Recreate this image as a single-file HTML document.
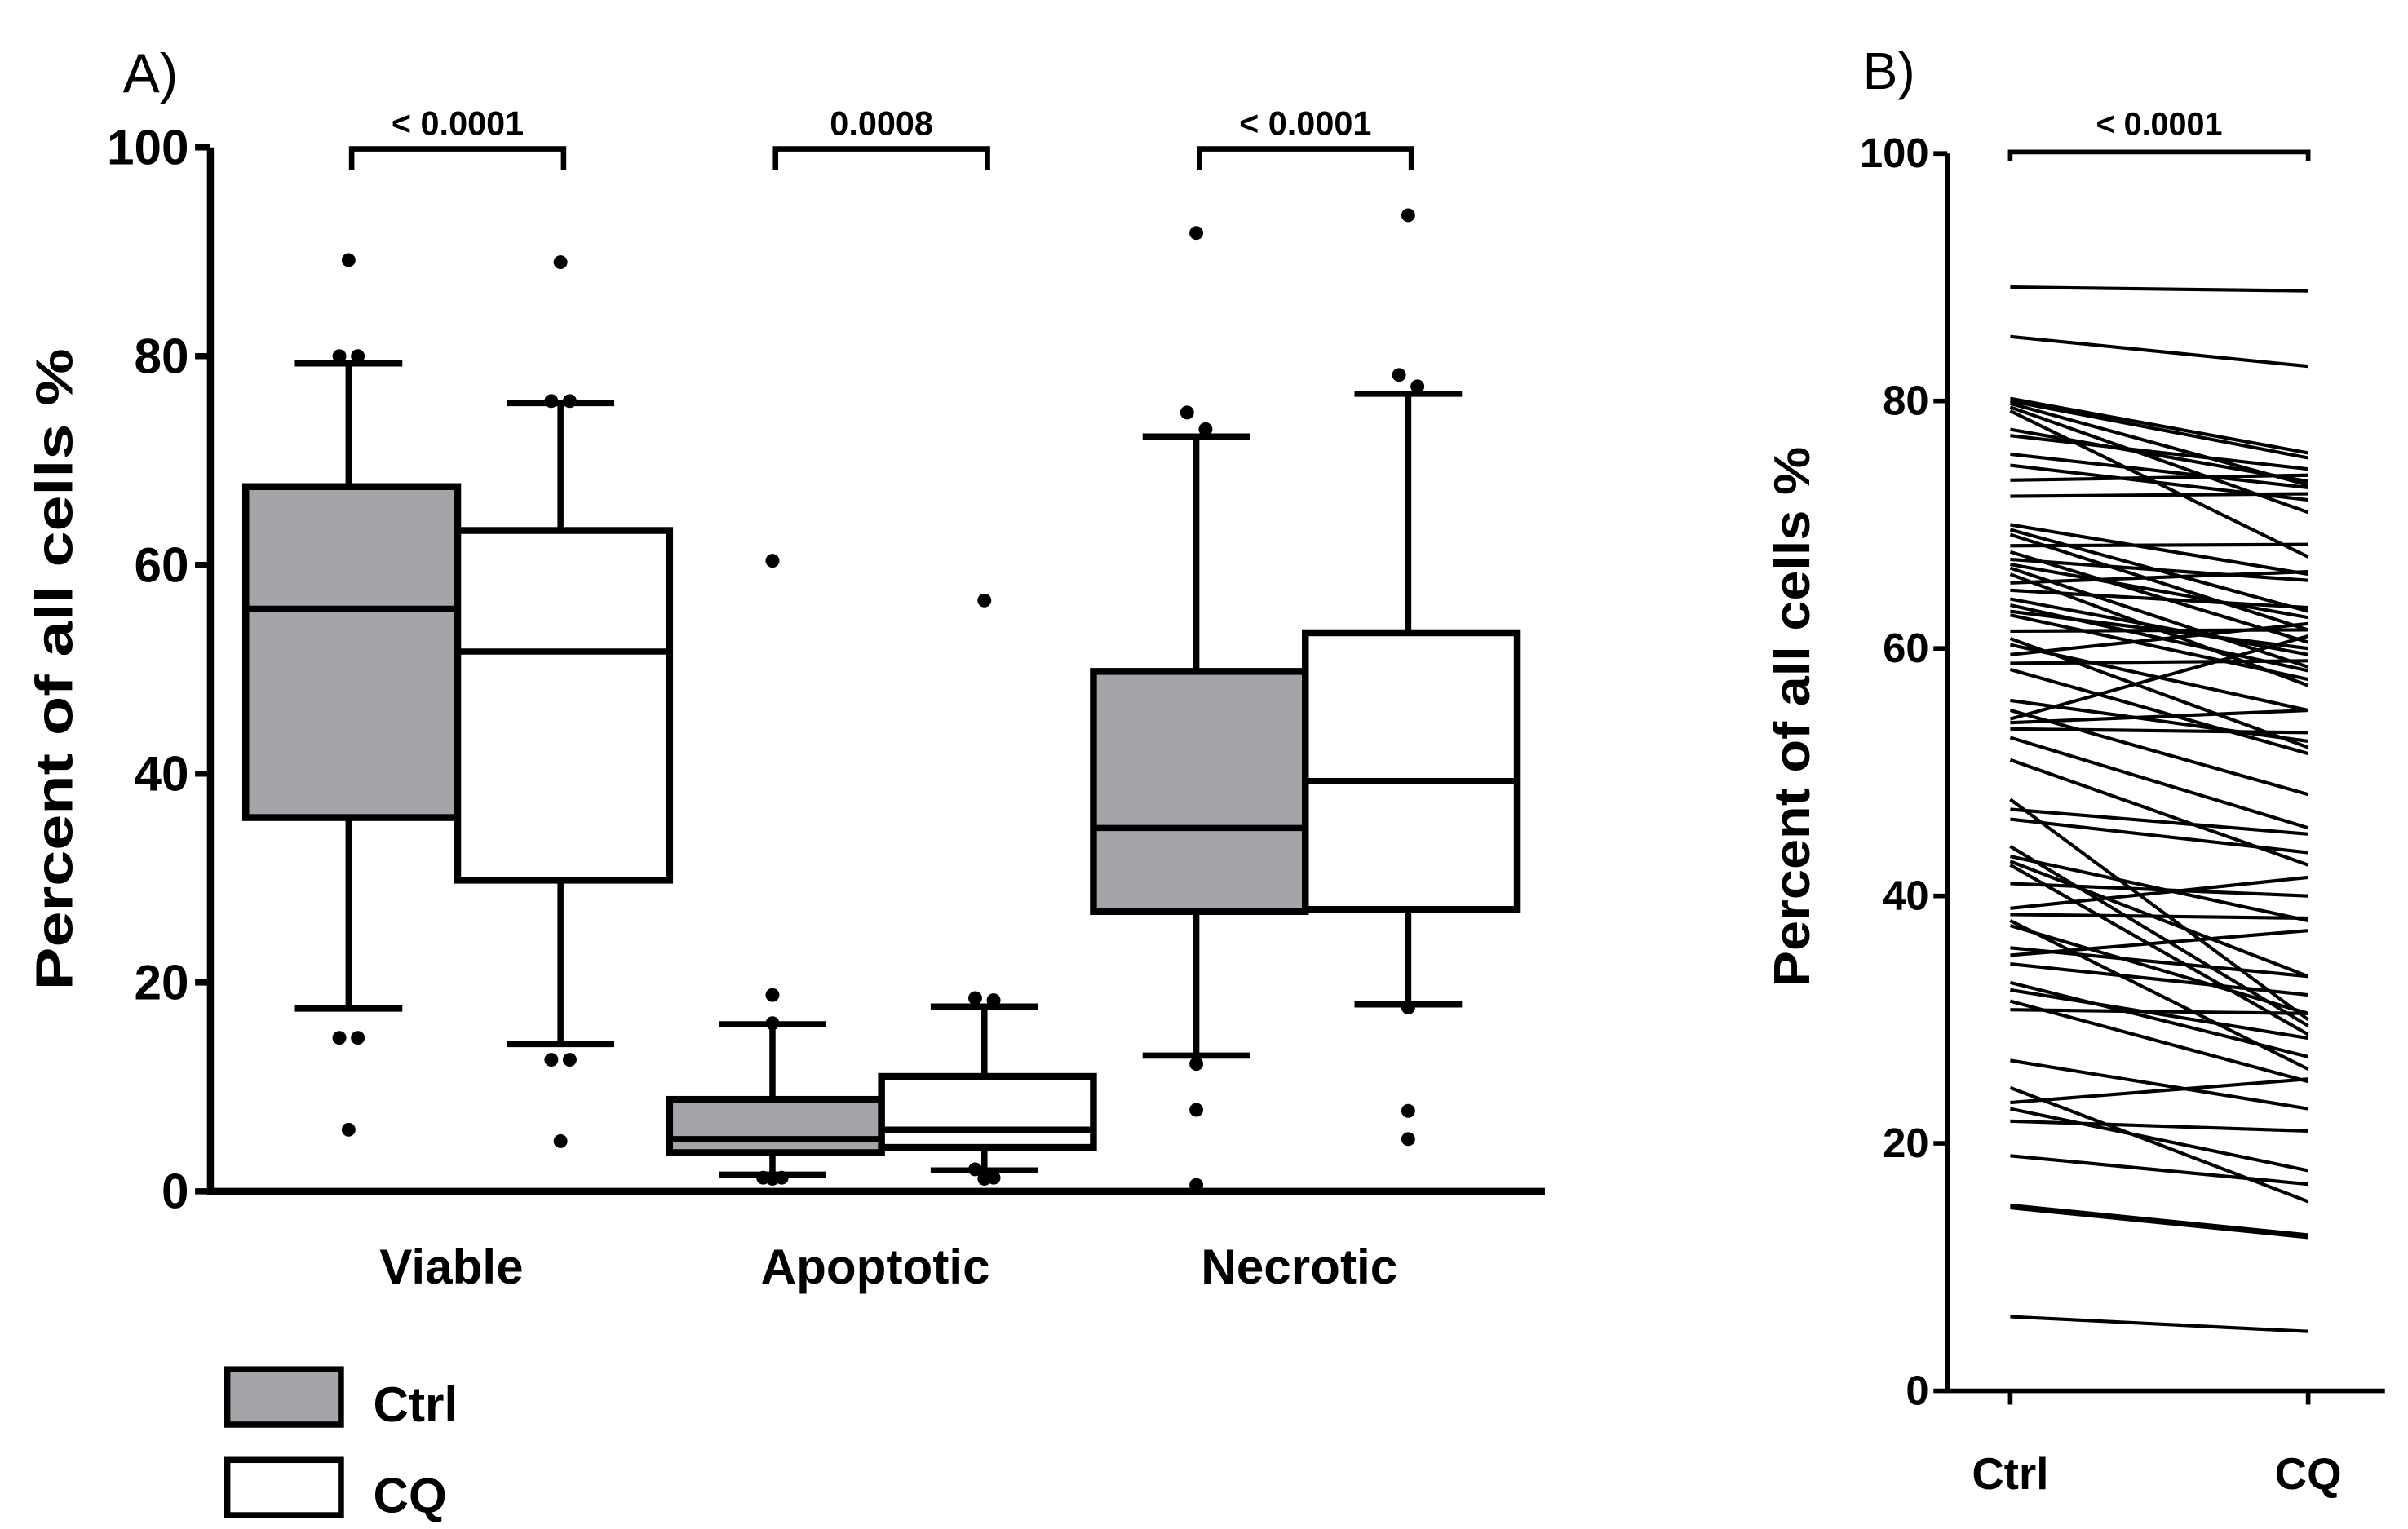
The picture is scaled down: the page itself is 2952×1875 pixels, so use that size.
<!DOCTYPE html>
<html><head><meta charset="utf-8">
<style>
html,body{margin:0;padding:0;background:#fff;}
svg{display:block;}
text{font-family:"Liberation Sans Narrow","Liberation Sans",sans-serif;font-weight:bold;fill:#000;}
.wide{font-family:"Liberation Sans",sans-serif;}
</style></head>
<body>
<svg id="chart" width="2952" height="1875" viewBox="0 0 1568 996" preserveAspectRatio="none" xmlns="http://www.w3.org/2000/svg">
  <g id="panelA"></g>
  <g id="panelB"></g>
</svg>
<script>
// ---------- Panel A data ----------
const categoriesA = ["Viable", "Apoptotic", "Necrotic"];
const groupsA = ["Ctrl", "CQ"];
// [whiskerLow, Q1, median, Q3, whiskerHigh]
const ctrlStats = [[17.5, 35.8, 55.8, 67.5, 79.3], [1.6, 3.7, 5.0, 8.8, 16.0], [13.0, 26.8, 34.8, 49.8, 72.3]];
const cqStats = [[14.1, 29.8, 51.7, 63.3, 75.5], [2.0, 4.2, 5.9, 11.0, 17.7], [17.9, 27.0, 39.3, 53.5, 76.4]];
// outliers: [value, horizontal offset index]
const ctrlOutliers = [[[89.2,0],[80.0,-1],[80.0,1],[14.7,-1],[14.7,1],[5.9,0]],
                      [[60.4,0],[18.8,0],[16.1,0],[1.3,-1],[1.2,0],[1.3,1]],
                      [[91.8,0],[74.6,-1],[73.0,1],[12.2,0],[7.8,0],[0.6,0]]];
const cqOutliers = [[[89.0,0],[75.7,-1],[75.7,1],[12.6,-1],[12.6,1],[4.8,0]],
                    [[56.6,0],[18.5,-1],[18.3,1],[2.1,-1],[1.2,0],[1.3,1]],
                    [[93.5,0],[78.2,-1],[77.1,1],[17.6,0],[7.7,0],[5.0,0]]];
const pValuesA = ["< 0.0001", "0.0008", "< 0.0001"];
const yTicksA = [0, 20, 40, 60, 80, 100];

// ---------- Panel B data ----------
const ctrlPaired = [89.2,85.2,80.2,80.0,79.8,79.5,79.2,77.7,77.2,75.7,74.8,73.6,72.3,70.0,69.6,69.2,68.3,67.8,67.2,66.8,66.5,66.0,65.3,64.7,64.0,63.5,63.0,62.7,61.4,60.8,60.3,59.5,58.8,58.3,55.8,55.0,54.3,54.0,53.5,52.8,51.0,47.8,47.0,46.2,44.0,43.2,42.8,42.5,41.0,39.0,38.5,38.0,37.6,35.8,35.2,34.5,33.0,32.4,31.5,30.8,26.7,24.5,23.3,22.8,21.8,19.0,15.0,14.8,6.0];
const cqPaired = [88.9,82.8,75.8,75.4,73.2,71.0,67.4,73.5,74.5,73.0,72.0,74.0,72.5,66.0,63.0,61.5,68.4,60.5,65.5,62.5,58.5,57.0,66.2,63.3,59.5,58.2,60.0,57.5,61.5,52.0,55.0,62.0,59.0,51.5,52.5,48.2,61.0,55.0,53.2,45.5,42.5,30.0,45.0,43.5,29.5,38.0,33.5,28.8,40.0,41.5,38.2,26.0,30.5,33.5,37.2,32.0,27.0,28.5,25.0,30.5,22.8,15.3,25.2,17.8,21.0,16.7,12.6,12.4,4.8];
const groupsB = ["Ctrl", "CQ"];
const yTicksB = [0, 20, 40, 60, 80, 100];
const pValueB = "< 0.0001";

const NS = "http://www.w3.org/2000/svg";
function mk(parent, tag, attrs, txt) {
  const e = document.createElementNS(NS, tag);
  for (const k in attrs) e.setAttribute(k, attrs[k]);
  if (txt !== undefined) e.textContent = txt;
  parent.appendChild(e);
  return e;
}

// ---------- Panel A ----------
const A = document.getElementById("panelA");
const yA = v => 776 - v * 6.8;
const axA = 137, boxW = 138;

let t = mk(A, "text", {x: 80, y: 60, "font-size": 36, style: "font-weight:normal"}, "A)");



let ax = mk(A, "path", {d: `M${axA} ${yA(100)} L${axA} ${yA(0)} L1006 ${yA(0)}`, stroke: "#000", "stroke-width": 4.5, fill: "none"});



yTicksA.forEach(v => {
  const tk = mk(A, "line", {x1: axA - 10, x2: axA, y1: yA(v), y2: yA(v), stroke: "#000", "stroke-width": 4});
  
  
  const lb = mk(A, "text", {x: axA - 14, y: yA(v) + 11, "font-size": 32, "text-anchor": "end"}, v);
  
  
});

let yt = mk(A, "text", {x: 0, y: 0, "font-size": 34, "text-anchor": "middle", textLength: 418, lengthAdjust: "spacingAndGlyphs", transform: "translate(47 436) rotate(-90)", class: "wide"}, "Percent of all cells %");



function drawBox(stats, outs, left, fill, name) {
  const g = mk(A, "g", {});
  
  
  const cx = left + boxW / 2 - 2;
  const [lo, q1, md, q3, hi] = stats;
  mk(g, "line", {x1: cx, x2: cx, y1: yA(hi), y2: yA(q3), stroke: "#000", "stroke-width": 4});
  mk(g, "line", {x1: cx, x2: cx, y1: yA(q1), y2: yA(lo), stroke: "#000", "stroke-width": 4});
  mk(g, "line", {x1: cx - 35, x2: cx + 35, y1: yA(hi), y2: yA(hi), stroke: "#000", "stroke-width": 4});
  mk(g, "line", {x1: cx - 35, x2: cx + 35, y1: yA(lo), y2: yA(lo), stroke: "#000", "stroke-width": 4});
  mk(g, "rect", {x: left, y: yA(q3), width: boxW, height: yA(q1) - yA(q3), fill: fill, stroke: "#000", "stroke-width": 4.5});
  mk(g, "line", {x1: left, x2: left + boxW, y1: yA(md), y2: yA(md), stroke: "#000", "stroke-width": 4});
  outs.forEach(o => {
    const d = mk(g, "circle", {cx: cx + o[1] * 6, cy: yA(o[0]), r: 4.5, fill: "#000"});
    
    
  });
  return cx;
}

categoriesA.forEach((c, i) => {
  const l1 = 160 + i * 2 * boxW, l2 = l1 + boxW;
  const c1 = drawBox(ctrlStats[i], ctrlOutliers[i], l1, "#a4a5a9", "box-" + c.toLowerCase() + "-ctrl");
  const c2 = drawBox(cqStats[i], cqOutliers[i], l2, "#ffffff", "box-" + c.toLowerCase() + "-cq");
  const br = mk(A, "path", {d: `M${c1 + 2} 111 L${c1 + 2} 97 L${c2 + 2} 97 L${c2 + 2} 111`, stroke: "#000", "stroke-width": 3.5, fill: "none"});
  
  
  const pt = mk(A, "text", {x: (c1 + c2) / 2 + 2, y: 88, "font-size": 22, "text-anchor": "middle"}, pValuesA[i]);
  
  
  const cl = mk(A, "text", {x: l2 - 4, y: 836, "font-size": 32, "text-anchor": "middle"}, c);
  
  
});

// legend
[["Ctrl", "#a4a5a9", 892], ["CQ", "#ffffff", 951]].forEach(([lbl, f, y]) => {
  const g = mk(A, "g", {});
  
  
  mk(g, "rect", {x: 148, y: y, width: 74, height: 36, fill: f, stroke: "#000", "stroke-width": 4});
  mk(g, "text", {x: 243, y: y + 34, "font-size": 32}, lbl);
});

// ---------- Panel B ----------
const B = document.getElementById("panelB");
const yB = v => 906 - v * 8.06;
const axB = 1268;
const xB = [1309, 1503];

t = mk(B, "text", {x: 1213, y: 58, "font-size": 34, style: "font-weight:normal"}, "B)");



ax = mk(B, "path", {d: `M${axB} ${yB(100)} L${axB} ${yB(0)} L1553 ${yB(0)}`, stroke: "#000", "stroke-width": 3, fill: "none"});



yTicksB.forEach(v => {
  const tk = mk(B, "line", {x1: axB - 9, x2: axB, y1: yB(v), y2: yB(v), stroke: "#000", "stroke-width": 3});
  
  
  const lb = mk(B, "text", {x: axB - 12, y: yB(v) + 9, "font-size": 27, "text-anchor": "end", class: "wide"}, v);
  
  
});
groupsB.forEach((gname, i) => {
  const tk = mk(B, "line", {x1: xB[i], x2: xB[i], y1: yB(0), y2: yB(0) + 9, stroke: "#000", "stroke-width": 3});
  
  
  const lb = mk(B, "text", {x: xB[i], y: 970, "font-size": 29, "text-anchor": "middle", class: "wide"}, gname);
  
  
});

yt = mk(B, "text", {x: 0, y: 0, "font-size": 33, "text-anchor": "middle", textLength: 352, lengthAdjust: "spacingAndGlyphs", transform: "translate(1178 467) rotate(-90)"}, "Percent of all cells %");



const brB = mk(B, "path", {d: `M${xB[0]} 105 L${xB[0]} 99 L${xB[1]} 99 L${xB[1]} 105`, stroke: "#000", "stroke-width": 3, fill: "none"});


const pB = mk(B, "text", {x: (xB[0] + xB[1]) / 2, y: 88, "font-size": 21, "text-anchor": "middle", class: "wide"}, pValueB);



ctrlPaired.forEach((v, i) => {
  const ln = mk(B, "line", {x1: xB[0], y1: yB(v), x2: xB[1], y2: yB(cqPaired[i]), stroke: "#000", "stroke-width": 2.2});
  
  
});
</script>
</body></html>
